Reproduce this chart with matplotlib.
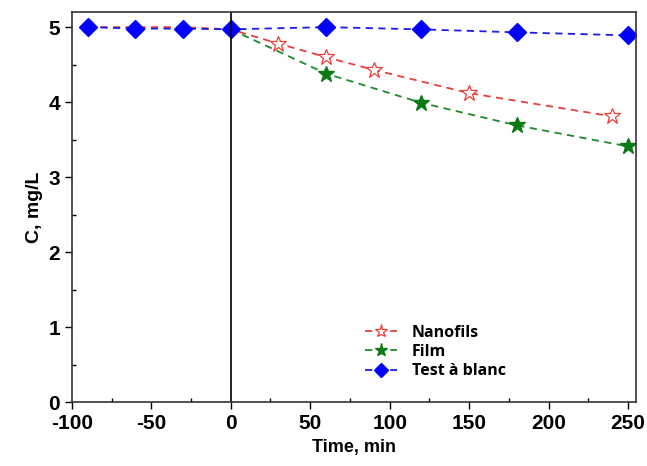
import matplotlib
matplotlib.use("Agg")
import matplotlib.pyplot as plt
from matplotlib.ticker import MultipleLocator

plt.rcParams['font.family'] = ['Liberation Sans', 'DejaVu Sans']
plt.rcParams['axes.unicode_minus'] = False

# data
t_blank = [-90, -60, -30, 0, 60, 120, 180, 250]
c_blank = [5.0, 4.98, 4.98, 4.97, 5.0, 4.97, 4.93, 4.89]

t_nano = [-90, -60, -30, 0, 30, 60, 90, 150, 240]
c_nano = [5.0, 5.0, 5.0, 4.97, 4.78, 4.60, 4.43, 4.12, 3.81]

t_film = [0, 60, 120, 180, 250]
c_film = [4.97, 4.38, 3.99, 3.69, 3.41]

fig = plt.figure(figsize=(6.47, 4.66), dpi=100)
ax = fig.add_axes([0.111, 0.137, 0.872, 0.837])

dash = (0, (4, 3))
ax.plot(t_nano, c_nano, linestyle=dash, color='#e8403a', lw=1.3, marker='*', ms=12,
        mfc='white', mec='#e8403a', mew=0.9, markevery=list(range(4, len(t_nano))),
        label='Nanofils')
ax.plot(t_film, c_film, linestyle=dash, color='#1f8a2a', lw=1.3, marker='*', ms=12,
        mfc='#0a7a14', mec='#0a7a14', markevery=list(range(1, len(t_film))),
        label='Film')
ax.plot(t_blank, c_blank, linestyle=dash, color='#1c1cf0', lw=1.3, marker='D', ms=9,
        mfc='#0000ff', mec='#0000ff', label='Test à blanc')

ax.axvline(0, color='black', lw=1.2)

ax.set_xlim(-100, 255)
ax.set_ylim(0, 5.2)
ax.xaxis.set_major_locator(MultipleLocator(50))
ax.xaxis.set_minor_locator(MultipleLocator(25))
ax.yaxis.set_major_locator(MultipleLocator(1))
ax.yaxis.set_minor_locator(MultipleLocator(0.5))
ax.tick_params(which='major', direction='out', length=5, width=1, labelsize=15)
ax.tick_params(which='minor', direction='in', length=3, width=1)
for lab in ax.get_xticklabels() + ax.get_yticklabels():
    lab.set_fontweight('bold')
for s in ax.spines.values():
    s.set_color('#333333')
    s.set_linewidth(1.2)

ax.set_xlabel('Time, min', fontsize=13, fontweight='bold')
ax.set_ylabel('C, mg/L', fontsize=14, fontweight='bold')

ax.legend(loc='upper left', bbox_to_anchor=(0.495, 0.235), frameon=False,
          prop={'weight': 'bold', 'size': 11.5, 'family': 'Open Sans'},
          handlelength=2.0, labelspacing=0.2, handletextpad=0.9, markerscale=0.8)

fig.savefig('out.png', dpi=100)
